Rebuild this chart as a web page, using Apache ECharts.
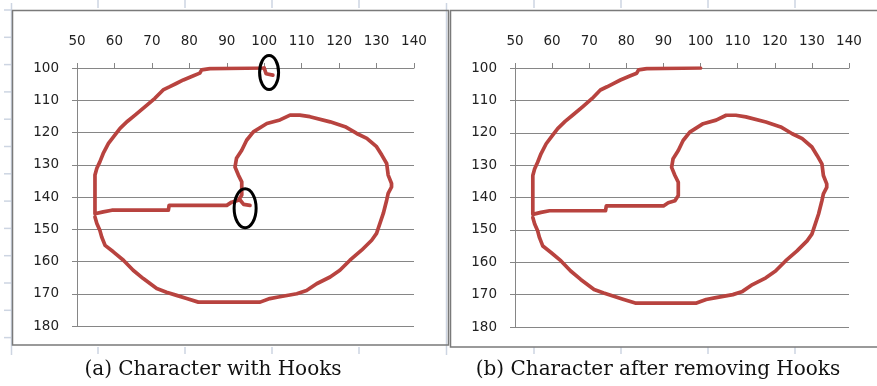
<!DOCTYPE html>
<html>
<head>
<meta charset="utf-8">
<script src="https://cdn.jsdelivr.net/npm/echarts@6/dist/echarts.min.js"></script>
<style>
html,body{margin:0;padding:0;background:#fff;}
#c{width:877px;height:386px;}
</style>
</head>
<body>
<div id="c"></div>
<script>
// ---- data ----
const xTicks = [50, 60, 70, 80, 90, 100, 110, 120, 130, 140];
const yTicks = [100, 110, 120, 130, 140, 150, 160, 170, 180];
const captions = ['(a) Character with Hooks', '(b) Character after removing Hooks'];

// main stroke (shared by both panels)
const pathX = [100, 85.5, 83.3, 82.8, 81.1, 78.4, 76.5, 74.8, 73, 70.8, 68.2, 65.5, 63.5, 61.5, 60.1, 58.4, 57, 56.1, 55.3, 54.8, 54.8,
  55.3, 57, 59.3, 74.4, 74.6, 90, 91.3, 93.1, 93.6,
  94, 94, 93.1, 92.2, 92.6, 94, 95.3, 97.1, 100.7, 104.2, 106.9, 109.5, 112.2, 117.6, 121.6, 124.7, 127.4, 130, 131.4, 132.7, 133.1, 134, 134,
  133.1, 132.7, 131.8, 130.9, 130, 128.7, 126, 122.9, 120.2, 117.6, 114, 111.3, 108.7, 103.8, 101.5, 98.9, 82.4, 79.3, 76.6, 73.9, 71.3, 67.7,
  65, 62.4, 59.7, 57.5, 56.6, 56.1, 55.3, 54.8];
const pathY = [100, 100.2, 100.6, 101.6, 102.4, 103.7, 104.8, 105.8, 106.8, 109.4, 112, 114.6, 116.5, 118.7, 120.8, 123.4, 126.5, 129.1, 131.1, 133.2, 145.2,
  145.1, 144.6, 144.1, 144.1, 142.6, 142.6, 141.6, 141, 141,
  139.4, 135.3, 133.2, 130.7, 128, 125.5, 122.4, 119.8, 117.2, 116.1, 114.6, 114.6, 115.1, 116.7, 118.2, 120.3, 121.8, 124.4, 127, 129.6, 133.2, 135.8, 136.9,
  138.9, 141, 145.1, 148.2, 151.3, 153.4, 156.5, 159.6, 162.7, 164.8, 166.9, 169, 170, 171, 171.5, 172.6, 172.6, 171.5, 170.5, 169.5, 168.4, 165.3,
  162.7, 159.6, 157, 155, 152.4, 150.3, 148.2, 146.2];

// hooks (panel a only)
const hook1X = [100, 100.5, 102.3];
const hook1Y = [100, 101.8, 102.2];
const hook2X = [93.6, 94.5, 96.2];
const hook2Y = [141, 142.3, 142.6];

// ---- build ----
const pairs = (xs, ys) => xs.map((x, i) => [x, ys[i]]);
const RED = '#B8433F';
const GRAYL = '#868686';
const FONT = 'DejaVu Sans';

const chart = echarts.init(document.getElementById('c'), null, {renderer: 'canvas'});

function xAx(gi) {
  return {
    gridIndex: gi, type: 'value', position: 'top', min: xTicks[0], max: xTicks[xTicks.length - 1], interval: 10,
    axisLine: {show: true, onZero: false, lineStyle: {color: GRAYL, width: 1}},
    axisTick: {show: true, inside: false, length: 5, lineStyle: {color: GRAYL}},
    axisLabel: {show: true, margin: 20, color: '#222', fontFamily: FONT, fontSize: 13.5},
    splitLine: {show: false}
  };
}
function yAx(gi) {
  return {
    gridIndex: gi, type: 'value', inverse: true, min: yTicks[0], max: yTicks[yTicks.length - 1], interval: 10,
    axisLine: {show: true, onZero: false, lineStyle: {color: GRAYL, width: 1}},
    axisTick: {show: true, inside: false, length: 5, lineStyle: {color: GRAYL}},
    axisLabel: {show: true, margin: 18, color: '#222', fontFamily: FONT, fontSize: 13.5},
    splitLine: {show: true, lineStyle: {color: GRAYL, width: 1}}
  };
}
function lineSeries(gi, data) {
  return {
    type: 'line', xAxisIndex: gi, yAxisIndex: gi, data: data, showSymbol: false, symbol: 'none',
    lineStyle: {color: RED, width: 3.7, join: 'round', cap: 'round'}, silent: true, animation: false
  };
}

// decorative frames & spreadsheet lines
const deco = [];
const LB = '#CDD5E2';
deco.push({type: 'line', shape: {x1: 11.5, y1: 3, x2: 11.5, y2: 355}, style: {stroke: LB, lineWidth: 1.5}});
deco.push({type: 'line', shape: {x1: 446.5, y1: 3, x2: 446.5, y2: 355}, style: {stroke: LB, lineWidth: 1.5}});
[98, 185, 272, 359, 534, 621, 708, 795].forEach(x => {
  deco.push({type: 'line', shape: {x1: x, y1: 0, x2: x, y2: 8}, style: {stroke: LB, lineWidth: 1.5}});
  deco.push({type: 'line', shape: {x1: x, y1: 347, x2: x, y2: 354}, style: {stroke: LB, lineWidth: 1.5}});
});
for (let i = 0; i < 13; i++) {
  const y = 10 + i * 27.3;
  deco.push({type: 'line', shape: {x1: 4, y1: y, x2: 11, y2: y}, style: {stroke: LB, lineWidth: 1.5}});
}
deco.push({type: 'rect', shape: {x: 12.5, y: 10.5, width: 436, height: 334.5}, style: {fill: 'none', stroke: '#7A7A7A', lineWidth: 1.5}});
deco.push({type: 'rect', shape: {x: 450.5, y: 10.5, width: 440, height: 336.5}, style: {fill: 'none', stroke: '#7A7A7A', lineWidth: 1.5}});
deco.push({type: 'text', x: 213, y: 370, style: {text: captions[0], fill: '#111', font: '20px "DejaVu Serif"', textAlign: 'center', textVerticalAlign: 'middle'}});
deco.push({type: 'text', x: 658, y: 370, style: {text: captions[1], fill: '#111', font: '20px "DejaVu Serif"', textAlign: 'center', textVerticalAlign: 'middle'}});

chart.setOption({
  animation: false,
  backgroundColor: '#fff',
  grid: [
    {left: 77, top: 68, width: 337, height: 258, containLabel: false},
    {left: 515, top: 68, width: 334, height: 259, containLabel: false}
  ],
  xAxis: [xAx(0), xAx(1)],
  yAxis: [yAx(0), yAx(1)],
  series: [
    lineSeries(0, pairs(pathX, pathY)),
    lineSeries(0, pairs(hook1X, hook1Y)),
    lineSeries(0, pairs(hook2X, hook2Y)),
    lineSeries(1, pairs(pathX, pathY))
  ],
  graphic: deco
});

// ellipses around the hooks, located from data coordinates
const e1 = chart.convertToPixel({gridIndex: 0}, [101.3, 101.4]);
const e2 = chart.convertToPixel({gridIndex: 0}, [94.9, 143.5]);
deco.push({type: 'ellipse', shape: {cx: e1[0], cy: e1[1], rx: 9.5, ry: 17}, style: {fill: 'none', stroke: '#000', lineWidth: 3}, z: 100});
deco.push({type: 'ellipse', shape: {cx: e2[0], cy: e2[1], rx: 11, ry: 19.5}, style: {fill: 'none', stroke: '#000', lineWidth: 3}, z: 100});
chart.setOption({graphic: deco});
</script>
</body>
</html>
